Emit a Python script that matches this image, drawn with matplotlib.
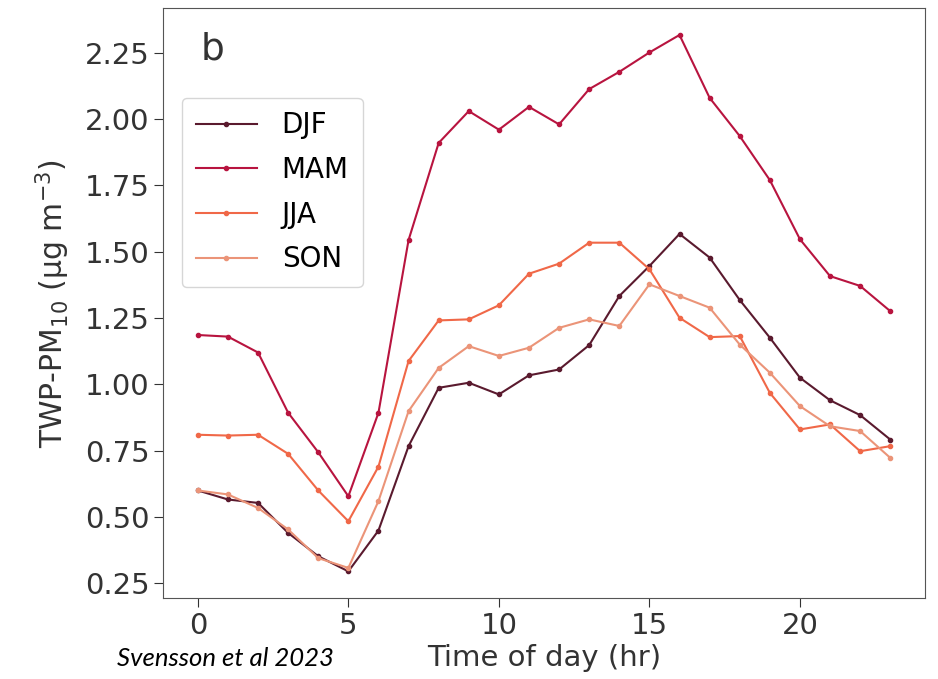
import matplotlib
matplotlib.use("Agg")
import matplotlib.pyplot as plt

hours = list(range(24))

djf = [0.60, 0.566, 0.553, 0.44, 0.352, 0.295, 0.449, 0.767, 0.987, 1.006, 0.962, 1.034,
       1.056, 1.148, 1.333, 1.446, 1.567, 1.478, 1.318, 1.176, 1.025, 0.94, 0.884, 0.792]
mam = [1.186, 1.18, 1.12, 0.893, 0.744, 0.578, 0.893, 1.544, 1.91, 2.03, 1.96, 2.046,
       1.98, 2.113, 2.178, 2.251, 2.317, 2.08, 1.936, 1.77, 1.547, 1.408, 1.371, 1.276]
jja = [0.81, 0.807, 0.81, 0.738, 0.60, 0.484, 0.69, 1.088, 1.241, 1.245, 1.298, 1.417,
       1.455, 1.534, 1.534, 1.434, 1.251, 1.178, 1.182, 0.968, 0.83, 0.849, 0.748, 0.767]
son = [0.60, 0.585, 0.534, 0.453, 0.345, 0.308, 0.56, 0.899, 1.062, 1.144, 1.107, 1.138,
       1.213, 1.245, 1.22, 1.377, 1.333, 1.289, 1.15, 1.044, 0.918, 0.842, 0.824, 0.723]

series = [("DJF", djf, "#5a1a2e"), ("MAM", mam, "#b8143f"),
          ("JJA", jja, "#f06848"), ("SON", son, "#eb9478")]

fig = plt.figure(figsize=(9.38, 6.79), dpi=100)
ax = fig.add_axes([0.174, 0.119, 0.812, 0.869])

for name, vals, col in series:
    ax.plot(hours, vals, marker="o", markersize=3, lw=1.5, color=col, label=name)

ax.set_xticks([0, 5, 10, 15, 20])
ax.set_yticks([0.25, 0.5, 0.75, 1.0, 1.25, 1.5, 1.75, 2.0, 2.25])
ax.set_yticklabels(["0.25", "0.50", "0.75", "1.00", "1.25", "1.50", "1.75", "2.00", "2.25"])
ax.tick_params(labelsize=21, colors="#333333", length=6.5)
for s in ax.spines.values():
    s.set_color("#555555")

ax.set_xlabel("Time of day (hr)", fontsize=21, color="#333333", labelpad=3)
ax.set_ylabel("TWP-PM$_{10}$ (µg m$^{-3}$)", fontsize=21.5, color="#333333", labelpad=9)

ax.text(0.049, 0.93, "b", transform=ax.transAxes, fontsize=27, va="center", ha="left",
        color="#333333")

ax.legend(loc="upper left", bbox_to_anchor=(0.006, 0.872), fontsize=20,
          handlelength=2.2, handletextpad=0.9, labelspacing=0.6, borderpad=0.5)

fig.text(0.125, 0.03, "Svensson et al 2023", fontsize=18.5, style="italic",
         family="Lato", va="center")

fig.savefig("out.png", dpi=100)
